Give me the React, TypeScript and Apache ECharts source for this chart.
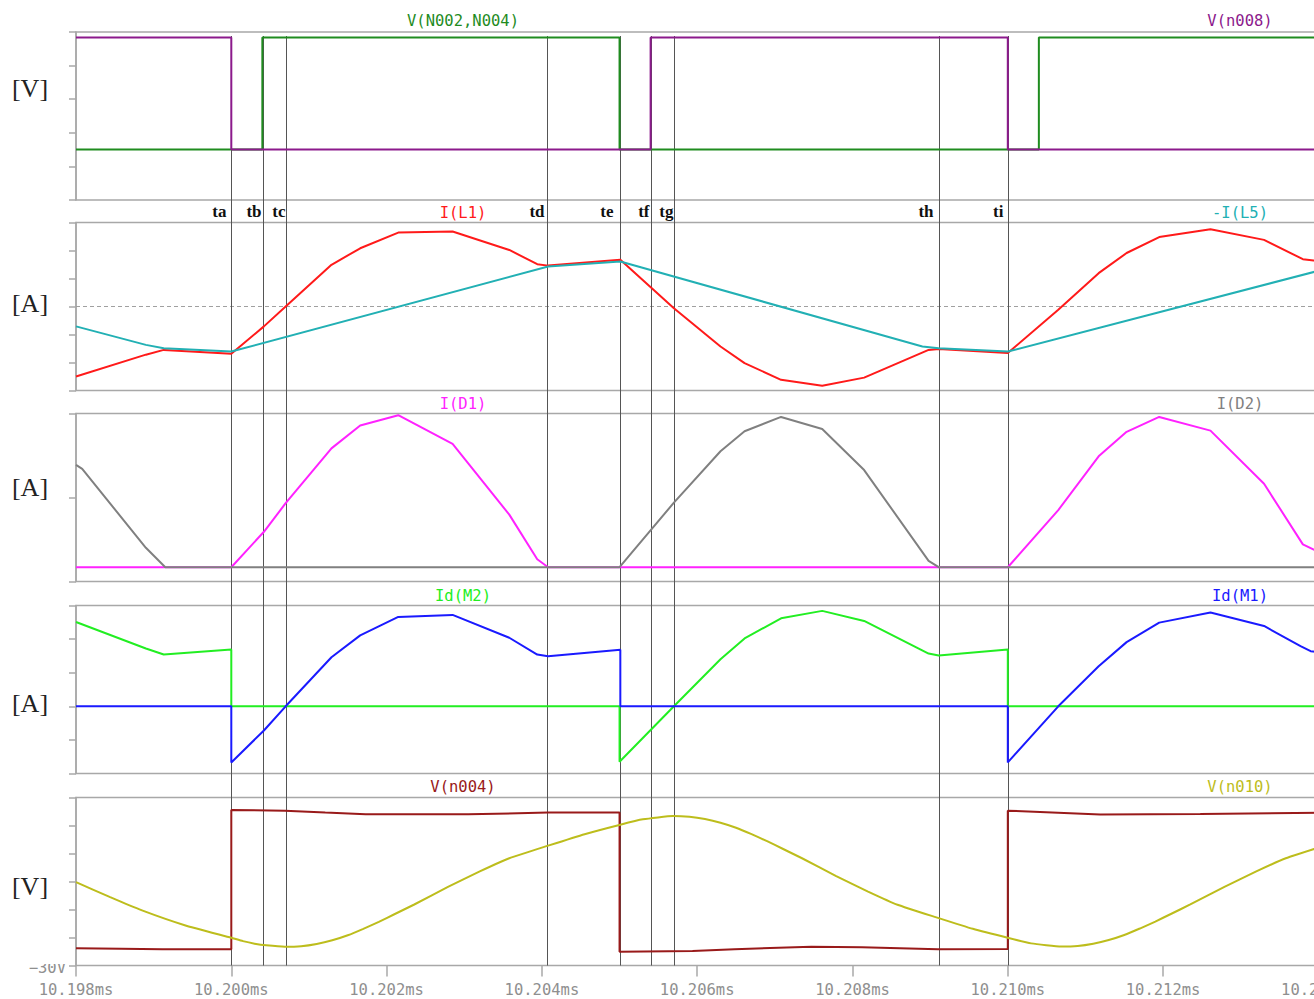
import React, { useEffect, useRef } from "react";
import * as echarts from "echarts";

// ---------- x axis (ms) ----------
const X_MIN = 10.198;
const X_MAX = 10.214;
const X_STEP = 0.002;

// ---------- cursors ----------
const cursorNames = ["ta", "tb", "tc", "td", "te", "tf", "tg", "th", "ti"];
const cursorTimes = [10.2, 10.20041, 10.2007, 10.20407, 10.205, 10.20541, 10.2057, 10.20911, 10.21];

// ---------- pane titles ----------
const paneUnits = ["[V]", "[A]", "[A]", "[A]", "[V]"];
const leftTraceNames = ["V(N002,N004)", "I(L1)", "I(D1)", "Id(M2)", "V(n004)"];
const rightTraceNames = ["V(n008)", "-I(L5)", "I(D2)", "Id(M1)", "V(n010)"];

// ---------- pane 1 : gate drives ----------
const vN002N004 = [[10.198, 0], [10.2004, 0], [10.2004, 10], [10.205, 10], [10.205, 0], [10.2104, 0], [10.2104, 10], [10.2145, 10]];
const vN008 = [[10.198, 10], [10.2, 10], [10.2, 0], [10.2054, 0], [10.2054, 10], [10.21, 10], [10.21, 0], [10.2145, 0]];

// ---------- pane 2 : inductor currents ----------
const iL1 = [[10.198, -2.5], [10.1989, -1.72], [10.19913, -1.55], [10.2, -1.69], [10.20042, -0.71], [10.2007, 0], [10.20129, 1.49], [10.20166, 2.08], [10.20215, 2.64], [10.20285, 2.68], [10.20358, 2.02], [10.20394, 1.51], [10.20408, 1.46], [10.20501, 1.67], [10.2057, -0.06], [10.2063, -1.43], [10.20661, -2.02], [10.20708, -2.62], [10.20761, -2.83], [10.20815, -2.54], [10.20898, -1.55], [10.20911, -1.52], [10.21, -1.66], [10.21065, -0.12], [10.21117, 1.19], [10.21153, 1.91], [10.21195, 2.48], [10.21261, 2.76], [10.2133, 2.38], [10.2138, 1.69], [10.2142, 1.55]];
const negIL5 = [[10.198, -0.71], [10.1989, -1.37], [10.19913, -1.49], [10.2, -1.61], [10.20408, 1.43], [10.20501, 1.61], [10.2089, -1.43], [10.20911, -1.49], [10.21, -1.61], [10.2142, 1.42]];

// ---------- pane 3 : diode currents ----------
const iD1 = [[10.198, 0], [10.2, 0], [10.20042, 0.62], [10.2007, 1.12], [10.20129, 2.08], [10.20166, 2.48], [10.20215, 2.66], [10.20285, 2.16], [10.20358, 0.92], [10.20394, 0.14], [10.20408, 0], [10.21, 0], [10.21065, 1.0], [10.21117, 1.94], [10.21153, 2.37], [10.21195, 2.63], [10.21261, 2.39], [10.2133, 1.46], [10.2138, 0.4], [10.2142, 0.14]];
const iD2 = [[10.198, 1.79], [10.19808, 1.72], [10.1989, 0.34], [10.19915, 0], [10.205, 0], [10.2057, 1.13], [10.2063, 2.03], [10.20661, 2.38], [10.20708, 2.63], [10.20761, 2.42], [10.20815, 1.7], [10.20898, 0.11], [10.20911, 0], [10.2145, 0]];

// ---------- pane 4 : MOSFET drain currents ----------
const idM2 = [[10.198, 2.51], [10.1989, 1.72], [10.19913, 1.54], [10.2, 1.69], [10.2, 0], [10.205, 0], [10.205, -1.65], [10.2057, 0], [10.2063, 1.4], [10.20661, 2.02], [10.20708, 2.62], [10.20761, 2.84], [10.20815, 2.54], [10.20898, 1.57], [10.20911, 1.51], [10.21, 1.69], [10.21, 0], [10.2145, 0]];
const idM1 = [[10.198, 0], [10.2, 0], [10.2, -1.67], [10.20042, -0.72], [10.2007, 0], [10.20129, 1.46], [10.20166, 2.11], [10.20215, 2.66], [10.20285, 2.72], [10.20358, 2.04], [10.20394, 1.54], [10.20408, 1.49], [10.20501, 1.68], [10.20501, 0], [10.21, 0], [10.21, -1.67], [10.21065, 0], [10.21117, 1.19], [10.21153, 1.91], [10.21195, 2.49], [10.21261, 2.79], [10.2133, 2.39], [10.21377, 1.79], [10.2139, 1.64], [10.2145, 1.5]];

// ---------- pane 5 : node voltages ----------
const vN004 = [[10.198, -23.8], [10.19858, -24.0], [10.19911, -24.2], [10.2, -24.2], [10.2, 25.5], [10.20069, 25.3], [10.20121, 24.6], [10.20173, 24.0], [10.20305, 24.0], [10.20408, 24.6], [10.205, 24.6], [10.205, -25.1], [10.20594, -24.8], [10.20648, -24.2], [10.20747, -23.3], [10.20812, -23.5], [10.2091, -24.2], [10.21, -24.1], [10.21, 25.3], [10.21119, 23.9], [10.21248, 24.1], [10.2142, 24.6]];
const vN010 = [
  [10.198, -0.2], [10.19844, -5.6], [10.19885, -10.3], [10.1994, -15.6], [10.2, -20.1],
  [10.20015, -21.3], [10.2003, -22.2], [10.20045, -22.8], [10.20069, -23.3], [10.2009, -23.1],
  [10.2011, -22.3], [10.2013, -21.0], [10.2015, -19.2], [10.2017, -16.9], [10.2019, -14.4],
  [10.2021, -11.7], [10.20235, -8.3], [10.20279, -1.9], [10.2032, 3.6], [10.20358, 8.3],
  [10.20408, 12.8], [10.20455, 16.9], [10.20501, 20.3], [10.2053, 22.2], [10.20569, 23.4],
  [10.2059, 23.1], [10.2061, 22.3], [10.2063, 21.0], [10.2065, 19.2], [10.2067, 16.9],
  [10.2069, 14.4], [10.2071, 11.7], [10.20735, 8.3], [10.20779, 1.9], [10.2082, -3.6],
  [10.20858, -8.3], [10.20908, -12.8], [10.20955, -16.9], [10.21001, -20.2], [10.2103, -22.1],
  [10.21069, -23.2], [10.2109, -23.0], [10.2111, -22.2], [10.2113, -20.9], [10.2115, -19.1],
  [10.2117, -16.8], [10.2119, -14.3], [10.2121, -11.6], [10.21235, -8.2], [10.21279, -1.9],
  [10.2132, 3.6], [10.21358, 8.3], [10.21408, 12.8],
];

// ---------- styling / layout ----------
const MONO = "'DejaVu Sans Mono', monospace";
const SERIF = "'Liberation Serif', 'Times New Roman', serif";
const AXIS_GRAY = "#a8a8a8";
const PANE_TOPS = [32, 222.5, 413.5, 605.5, 797.5];
const PANE_H = 168;
const GRID_LEFT = 76;
const GRID_W = 1242.4;
const UNIT_Y = [88, 303, 487, 703, 886];
const TITLE_Y = [21, 213, 404, 596, 787];
const LEFT_TITLE_X = 463;
const RIGHT_TITLE_X = 1240;
const CURSOR_GAP = [5, 2, 1, 3, 7, 2, 1, 6, 5];

const paneAxes = [
  { min: -4.5, max: 10.5, ticks: [-4.5, -1.5, 1.5, 4.5, 7.5, 10.5] },
  { min: -3, max: 3, ticks: [-3, -2, -1, 0, 1, 2, 3] },
  { min: -0.25, max: 2.69, ticks: [-0.25, 1.22, 2.69] },
  { min: -2, max: 3, ticks: [-2, -1, 0, 1, 2, 3] },
  { min: -30, max: 30, ticks: [-30, -20, -10, 0, 10, 20, 30] },
];

const traces = [
  { pane: 0, data: vN002N004, color: "#1f8c1f" },
  { pane: 0, data: vN008, color: "#8c1a8c" },
  { pane: 1, data: iL1, color: "#ff1a1a" },
  { pane: 1, data: negIL5, color: "#22b0b4" },
  { pane: 2, data: iD1, color: "#ff22ff" },
  { pane: 2, data: iD2, color: "#808080" },
  { pane: 3, data: idM2, color: "#22ee22" },
  { pane: 3, data: idM1, color: "#1a1aff" },
  { pane: 4, data: vN004, color: "#991a1a" },
  { pane: 4, data: vN010, color: "#bdbd1c", smooth: 0.15 },
];
const leftTitleColors = ["#1f8c1f", "#ff1a1a", "#ff22ff", "#22ee22", "#991a1a"];
const rightTitleColors = ["#8c1a8c", "#22b0b4", "#808080", "#1a1aff", "#bdbd1c"];

function buildOption() {
  const grid = PANE_TOPS.map((top) => ({
    left: GRID_LEFT,
    top,
    width: GRID_W,
    height: PANE_H,
    show: true,
    borderColor: AXIS_GRAY,
    borderWidth: 1.5,
    backgroundColor: "transparent",
  }));
  const xAxis = PANE_TOPS.map((_, i) => ({
    type: "value",
    gridIndex: i,
    position: "bottom",
    min: X_MIN,
    max: X_MAX,
    interval: X_STEP,
    axisLine: { show: false, onZero: false },
    splitLine: { show: false },
    axisTick: { show: i === 4, length: 11, lineStyle: { color: AXIS_GRAY, width: 1.5 } },
    axisLabel: {
      show: i === 4,
      color: "#8f8f8f",
      fontFamily: MONO,
      fontSize: 15.5,
      margin: 16,
      showMinLabel: true,
      showMaxLabel: true,
      hideOverlap: false,
      formatter: (v: number) => v.toFixed(3) + "ms",
    },
  }));
  const yAxis = paneAxes.map((a, i) => ({
    type: "value",
    gridIndex: i,
    position: "left",
    min: a.min,
    max: a.max,
    axisLine: { show: true, onZero: false, lineStyle: { color: AXIS_GRAY, width: 1.5 } },
    axisTick: { show: true, length: 7, inside: false, customValues: a.ticks, lineStyle: { color: AXIS_GRAY, width: 1.5 } },
    axisLabel: { show: false, customValues: a.ticks },
    splitLine: { show: false },
  }));
  const series: any[] = traces.map((t) => ({
    type: "line",
    xAxisIndex: t.pane,
    yAxisIndex: t.pane,
    data: t.data,
    showSymbol: false,
    symbol: "none",
    smooth: (t as any).smooth || false,
    lineStyle: { color: t.color, width: 2 },
    itemStyle: { color: t.color },
    silent: true,
    z: 3,
  }));
  // dashed zero line of pane 2
  series[2].markLine = {
    silent: true,
    symbol: "none",
    label: { show: false },
    lineStyle: { type: [4, 3], color: "#a0a0a0", width: 1 },
    data: [{ yAxis: 0 }],
    z: 1,
  };
  return { animation: false, backgroundColor: "#ffffff", grid, xAxis, yAxis, series };
}

function buildGraphics(px: (t: number) => number) {
  const g: any[] = [];
  cursorTimes.forEach((t, i) => {
    const x = Math.round(px(t)) + 0.5;
    g.push({ type: "line", silent: true, z: 1, shape: { x1: x, y1: 36, x2: x, y2: 965.5 }, style: { stroke: "#555555", lineWidth: 1 } });
    g.push({
      type: "text", silent: true, z: 5, x: x - CURSOR_GAP[i], y: 211,
      style: { text: cursorNames[i], fill: "#111111", fontSize: 17, fontWeight: "bold", fontFamily: SERIF, align: "right", textAlign: "right", verticalAlign: "middle", textVerticalAlign: "middle" },
    });
  });
  paneUnits.forEach((u, i) => {
    g.push({
      type: "text", silent: true, z: 5, x: 30, y: UNIT_Y[i],
      style: { text: u, fill: "#222222", fontSize: 26, fontFamily: SERIF, align: "center", textAlign: "center", verticalAlign: "middle", textVerticalAlign: "middle" },
    });
    g.push({
      type: "text", silent: true, z: 5, x: LEFT_TITLE_X, y: TITLE_Y[i],
      style: { text: leftTraceNames[i], fill: leftTitleColors[i], fontSize: 15.5, fontFamily: MONO, align: "center", textAlign: "center", verticalAlign: "middle", textVerticalAlign: "middle" },
    });
    g.push({
      type: "text", silent: true, z: 5, x: RIGHT_TITLE_X, y: TITLE_Y[i],
      style: { text: rightTraceNames[i], fill: rightTitleColors[i], fontSize: 15.5, fontFamily: MONO, align: "center", textAlign: "center", verticalAlign: "middle", textVerticalAlign: "middle" },
    });
  });
  // partially hidden bottom tick label
  g.push({
    type: "text", silent: true, z: 5, x: 66, y: 968,
    style: { text: "−30V", fill: "#8f8f8f", fontSize: 15.5, fontFamily: MONO, align: "right", textAlign: "right", verticalAlign: "middle", textVerticalAlign: "middle" },
  });
  g.push({ type: "rect", silent: true, z: 6, shape: { x: 30, y: 950, width: 38, height: 14 }, style: { fill: "#ffffff" } });
  return g;
}

export default function App() {
  const ref = useRef<HTMLDivElement>(null);
  useEffect(() => {
    if (!ref.current) return;
    const chart = echarts.init(ref.current, null, { renderer: "svg" });
    chart.setOption(buildOption() as any);
    const px = (t: number) => chart.convertToPixel({ xAxisIndex: 4 } as any, t) as unknown as number;
    chart.setOption({ graphic: buildGraphics(px) } as any);
    return () => chart.dispose();
  }, []);
  return (
    <div
      ref={ref}
      style={{ position: "fixed", left: 0, top: 0, width: 1400, height: 999, background: "#ffffff" }}
    />
  );
}
